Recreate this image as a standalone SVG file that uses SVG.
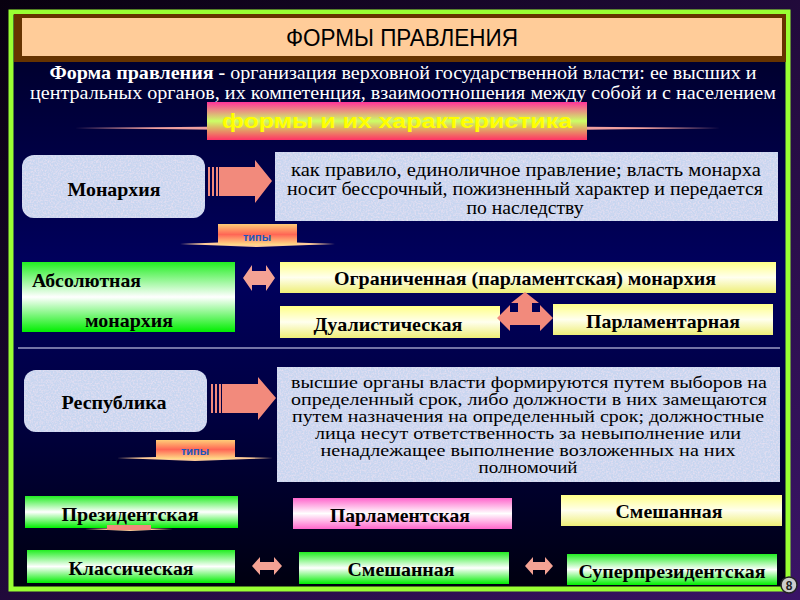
<svg xmlns="http://www.w3.org/2000/svg" width="800" height="600" viewBox="0 0 800 600">
<defs>
<linearGradient id="outer" x1="0" y1="0" x2="1" y2="1"><stop offset="0" stop-color="#08000f"/><stop offset="1" stop-color="#3a1466"/></linearGradient>
<linearGradient id="inner" x1="0" y1="0" x2="0" y2="1"><stop offset="0" stop-color="#000024"/><stop offset="0.45" stop-color="#00005e"/><stop offset="0.7" stop-color="#000040"/><stop offset="1" stop-color="#00000f"/></linearGradient>
<linearGradient id="green" x1="0" y1="0" x2="0" y2="1"><stop offset="0" stop-color="#22ee22"/><stop offset="0.5" stop-color="#ffffff"/><stop offset="1" stop-color="#00ee00"/></linearGradient>
<linearGradient id="yellow" x1="0" y1="0" x2="0" y2="1"><stop offset="0" stop-color="#ffff88"/><stop offset="0.5" stop-color="#ffffee"/><stop offset="1" stop-color="#eeee77"/></linearGradient>
<linearGradient id="pink" x1="0" y1="0" x2="0" y2="1"><stop offset="0" stop-color="#ff66cc"/><stop offset="0.5" stop-color="#ffffff"/><stop offset="1" stop-color="#ff66cc"/></linearGradient>
<linearGradient id="banner" x1="0" y1="0" x2="0" y2="1"><stop offset="0" stop-color="#ff3399"/><stop offset="0.5" stop-color="#ccff66"/><stop offset="1" stop-color="#ff3366"/></linearGradient>
<linearGradient id="tipy" x1="0" y1="0" x2="0" y2="1"><stop offset="0" stop-color="#ffcc77"/><stop offset="0.5" stop-color="#ff6655"/><stop offset="1" stop-color="#ffdd88"/></linearGradient>
<filter id="tex" x="0" y="0" width="1" height="1">
<feTurbulence type="fractalNoise" baseFrequency="0.6" numOctaves="2" seed="3" result="n"/>
<feColorMatrix in="n" type="matrix" values="0 0 0 0 0.95  0 0 0 0 0.8  0 0 0 0 0.9  0 0 0 1.2 -0.45" result="c"/>
<feComposite in="c" in2="SourceGraphic" operator="in" result="d"/>
<feMerge><feMergeNode in="SourceGraphic"/><feMergeNode in="d"/></feMerge>
</filter>
</defs>
<style>
.serif{font-family:"Liberation Serif","DejaVu Serif",serif}
.sans{font-family:"Liberation Sans","DejaVu Sans",sans-serif}
.lbl{font-family:"Liberation Serif","DejaVu Serif",serif;font-weight:bold;font-size:19px;fill:#000}
.desc{font-family:"Liberation Serif","DejaVu Serif",serif;font-size:18px;fill:#000}
.desc2{font-family:"Liberation Serif","DejaVu Serif",serif;font-size:16px;fill:#000}
.tex{fill:#c8d6f0;filter:url(#tex)}
.arr{fill:#f28a7c}
.darr{fill:#f4a294}
.tipyT{font-family:"Liberation Sans","DejaVu Sans",sans-serif;font-weight:bold;font-size:11px;fill:#2255bb}
</style>
<rect x="0" y="0" width="800" height="600" fill="url(#outer)"/>
<rect x="11" y="12" width="777" height="577" fill="url(#inner)" stroke="#99ff33" stroke-width="5"/>

<g id="title">
<rect x="14" y="14" width="772" height="48" fill="#663300"/>
<rect x="22" y="18" width="760" height="38" fill="#ffcc99"/>
<text x="402" y="46" text-anchor="middle" class="sans" font-size="23" fill="#000" textLength="232" lengthAdjust="spacingAndGlyphs">ФОРМЫ ПРАВЛЕНИЯ</text>
</g>

<g id="definition" class="serif" fill="#fff" font-size="19">
<text x="403" y="79" text-anchor="middle" textLength="707" lengthAdjust="spacingAndGlyphs"><tspan font-weight="bold">Форма правления -</tspan> организация верховной государственной власти: ее высших и</text>
<text x="403" y="99" text-anchor="middle" textLength="746" lengthAdjust="spacingAndGlyphs">центральных органов, их компетенция, взаимоотношения между собой и с населением</text>
</g>

<g id="banner">
<polygon points="75,128 400,125 720,128 400,132" fill="#f0a0a0"/>
<rect x="207" y="102" width="380" height="38" fill="url(#banner)"/>
<text x="397" y="128" text-anchor="middle" class="sans" font-weight="bold" font-size="20" fill="#ffff00" textLength="350" lengthAdjust="spacingAndGlyphs">формы  и  их  характеристика</text>
</g>

<g id="monarchy">
<rect x="22" y="155" width="183" height="63" rx="12" class="tex"/>
<text x="114" y="196" text-anchor="middle" class="lbl" font-size="20" textLength="93" lengthAdjust="spacingAndGlyphs">Монархия</text>
</g>

<g id="monarchy-desc">
<rect x="275" y="152" width="503" height="69" class="tex"/>
<text x="526" y="176" text-anchor="middle" class="desc" textLength="470" lengthAdjust="spacingAndGlyphs">как правило, единоличное правление; власть монарха</text>
<text x="525" y="195" text-anchor="middle" class="desc" textLength="476" lengthAdjust="spacingAndGlyphs">носит бессрочный, пожизненный характер и передается</text>
<text x="525" y="214" text-anchor="middle" class="desc" textLength="117" lengthAdjust="spacingAndGlyphs">по наследству</text>
</g>

<g id="types-1">
<polygon points="180,244 257,241 335,244 257,247" fill="#ffcc99"/>
<rect x="218" y="224" width="79" height="21" fill="url(#tipy)"/>
<text x="257" y="241" text-anchor="middle" class="tipyT">типы</text>
</g>

<g id="absolute">
<rect x="22" y="262" width="213" height="70" fill="url(#green)"/>
<text x="32" y="287" class="lbl" textLength="109" lengthAdjust="spacingAndGlyphs">Абсолютная</text>
<text x="129" y="327" text-anchor="middle" class="lbl" textLength="88" lengthAdjust="spacingAndGlyphs">монархия</text>
</g>

<g id="limited">
<rect x="280" y="262" width="496" height="31" fill="url(#yellow)"/>
<text x="525" y="285" text-anchor="middle" class="lbl" textLength="382" lengthAdjust="spacingAndGlyphs">Ограниченная (парламентская) монархия</text>
</g>

<g id="dualistic">
<rect x="280" y="306" width="220" height="32" fill="url(#yellow)"/>
<text x="388" y="331" text-anchor="middle" class="lbl" textLength="149" lengthAdjust="spacingAndGlyphs">Дуалистическая</text>
</g>

<g id="parliamentary">
<rect x="553" y="304" width="220" height="31" fill="url(#yellow)"/>
<text x="663" y="328" text-anchor="middle" class="lbl" textLength="154" lengthAdjust="spacingAndGlyphs">Парламентарная</text>
</g>

<line x1="18" y1="348" x2="780" y2="348" stroke="#e8e8ff" stroke-width="1"/>

<g id="republic">
<rect x="24" y="370" width="183" height="62" rx="12" class="tex"/>
<text x="114" y="409" text-anchor="middle" class="lbl" font-size="20" textLength="105" lengthAdjust="spacingAndGlyphs">Республика</text>
</g>

<g id="republic-desc">
<rect x="277" y="367" width="503" height="115" class="tex"/>
<text x="529" y="388" text-anchor="middle" class="desc2" textLength="476" lengthAdjust="spacingAndGlyphs">высшие органы власти формируются путем выборов на</text>
<text x="529" y="405" text-anchor="middle" class="desc2" textLength="476" lengthAdjust="spacingAndGlyphs">определенный срок, либо должности в них замещаются</text>
<text x="528" y="422" text-anchor="middle" class="desc2" textLength="472" lengthAdjust="spacingAndGlyphs">путем назначения на определенный срок; должностные</text>
<text x="528" y="439" text-anchor="middle" class="desc2" textLength="426" lengthAdjust="spacingAndGlyphs">лица несут ответственность за невыполнение или</text>
<text x="528" y="456" text-anchor="middle" class="desc2" textLength="415" lengthAdjust="spacingAndGlyphs">ненадлежащее выполнение возложенных на них</text>
<text x="528" y="473" text-anchor="middle" class="desc2" textLength="99" lengthAdjust="spacingAndGlyphs">полномочий</text>
</g>

<g id="types-2">
<polygon points="117,458 195,456 273,458 195,461" fill="#ffcc99"/>
<rect x="156" y="440" width="79" height="19" fill="url(#tipy)"/>
<text x="195" y="455" text-anchor="middle" class="tipyT">типы</text>
</g>

<g id="presidential">
<rect x="25" y="496" width="213" height="32" fill="url(#green)"/>
<polygon points="85,529 130,528 173,529 130,531" fill="#ffcc99"/>
<rect x="107" y="525" width="44" height="5" fill="#f28a7c"/>
<text x="130" y="521" text-anchor="middle" class="lbl" textLength="137" lengthAdjust="spacingAndGlyphs">Президентская</text>
</g>

<g id="parliamentary-rep">
<rect x="293" y="498" width="219" height="31" fill="url(#pink)"/>
<text x="400" y="522" text-anchor="middle" class="lbl" textLength="140" lengthAdjust="spacingAndGlyphs">Парламентская</text>
</g>

<g id="mixed-top">
<rect x="561" y="495" width="221" height="31" fill="url(#yellow)"/>
<text x="669" y="518" text-anchor="middle" class="lbl" textLength="107" lengthAdjust="spacingAndGlyphs">Смешанная</text>
</g>

<g id="classic">
<rect x="27" y="550" width="208" height="33" fill="url(#green)"/>
<text x="131" y="575" text-anchor="middle" class="lbl" textLength="125" lengthAdjust="spacingAndGlyphs">Классическая</text>
</g>

<g id="mixed-bottom">
<rect x="299" y="552" width="210" height="32" fill="url(#green)"/>
<text x="401" y="576" text-anchor="middle" class="lbl" textLength="107" lengthAdjust="spacingAndGlyphs">Смешанная</text>
</g>

<g id="superpresidential">
<rect x="567" y="554" width="210" height="31" fill="url(#green)"/>
<text x="672" y="578" text-anchor="middle" class="lbl" textLength="187" lengthAdjust="spacingAndGlyphs">Суперпрезидентская</text>
</g>

<g id="connectors">
<g class="arr">
<rect x="208" y="167" width="2" height="29"/><rect x="212" y="167" width="2" height="29"/><rect x="216" y="167" width="2" height="29"/>
<polygon points="219,167 255,167 255,160 272,181 255,203 255,196 219,196"/>
<rect x="211" y="384" width="2" height="29"/><rect x="215" y="384" width="2" height="29"/><rect x="219" y="384" width="2" height="29"/>
<polygon points="222,384 258,384 258,377 276,398 258,420 258,413 222,413"/>
<polygon points="497,318 510,305 510,312 518,312 518,303 511,303 525,292 539,303 532,303 532,312 540,312 540,305 553,318 540,331 540,325 510,325 510,331"/>
</g>
<g class="darr">
<polygon points="243,278 252,265 252,271 266,271 266,265 275,278 266,291 266,285 252,285 252,291"/>
<polygon points="252,566 260,557 260,562 274,562 274,557 282,566 274,575 274,570 260,570 260,575"/>
<polygon points="525,566 533,557 533,562 545,562 545,557 553,566 545,575 545,570 533,570 533,575"/>
</g>
</g>

<g id="page-number">
<circle cx="789" cy="585" r="8" fill="#cccccc" stroke="#222" stroke-width="1.5"/>
<text x="789" y="590" text-anchor="middle" class="sans" font-weight="bold" font-size="12" fill="#222">8</text>
</g>
</svg>
